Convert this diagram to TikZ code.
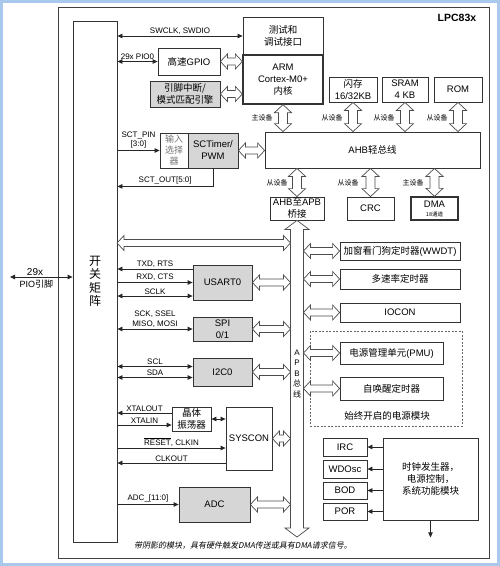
\documentclass[tikz,border=0pt]{standalone}
\usepackage{fontspec}
\setmainfont{Liberation Sans}
\newfontfamily\cjk{Noto Sans CJK SC}
\newfontfamily\cjkit[FakeSlant=0.2]{Noto Sans CJK SC}
\usepackage{xcolor}
\usepackage{tikz}
\usetikzlibrary{arrows.meta,calc}

\definecolor{frameblue}{RGB}{170,200,235}
\definecolor{shade}{RGB}{214,214,214}

\tikzset{
  box/.style={draw=black!80,line width=.8pt,fill=white,align=center,inner sep=1pt,font=\fontsize{9.5}{12}\selectfont},
  shbox/.style={box,fill=shade},
  lbl/.style={font=\fontsize{8}{9.5}\selectfont,inner sep=1.5pt,align=center},
  tag/.style={font=\cjk\fontsize{7}{8}\selectfont,inner sep=1pt},
  sig/.style={line width=.8pt,draw=black!85},
  fat/.style={draw=black!70,line width=.7pt,fill=white,line join=miter},
}

% fat double arrows: left->right and top->bottom
\newcommand{\hfat}[2]{\draw[fat] let \p1=(#1),\p2=(#2) in
  (\x1,\y1) -- (\x1+7pt,\y1+7.5pt) -- (\x1+7pt,\y1+3.5pt) -- (\x2-7pt,\y1+3.5pt)
  -- (\x2-7pt,\y1+7.5pt) -- (\x2,\y1) -- (\x2-7pt,\y1-7.5pt) -- (\x2-7pt,\y1-3.5pt)
  -- (\x1+7pt,\y1-3.5pt) -- (\x1+7pt,\y1-7.5pt) -- cycle;}
\newcommand{\vfat}[2]{\draw[fat] let \p1=(#1),\p2=(#2) in
  (\x1,\y1) -- (\x1+8.5pt,\y1-8pt) -- (\x1+4.5pt,\y1-8pt) -- (\x1+4.5pt,\y2+8pt)
  -- (\x1+8.5pt,\y2+8pt) -- (\x1,\y2) -- (\x1-8.5pt,\y2+8pt) -- (\x1-4.5pt,\y2+8pt)
  -- (\x1-4.5pt,\y1-8pt) -- (\x1-8.5pt,\y1-8pt) -- cycle;}

\begin{document}
\begin{tikzpicture}[x=1pt,y=-1pt,>={Triangle[length=5pt,width=4.5pt]}]
\useasboundingbox (0,0) rectangle (500,566);
\draw[frameblue,line width=3pt] (1.5,1.5) rectangle (498.5,564.5);
\draw[line width=1pt,draw=black!75] (58.5,7) rectangle (489,558);
\node[font=\bfseries\fontsize{10.5}{12}\selectfont] (chip) at (457,18) {LPC83x};

% switch matrix and pins
\node[box,minimum width=44,minimum height=521,font=\cjk\fontsize{12}{13.5}\selectfont] (sw) at (95,281.5) {开\\关\\矩\\阵};
\coordinate (pio) at (10,277);
\draw[sig,<->] (pio) -- (pio -| sw.west)
  node[lbl,pos=.4,above,font=\fontsize{10}{11}\selectfont]{29x}
  node[lbl,pos=.42,below,yshift=-1pt,font=\fontsize{9}{10}\selectfont]{PIO{\cjk 引脚}};

% core side
\node[box,minimum width=80,minimum height=38] (dbg) at (283,36) {{\cjk 测试和}\\{\cjk 调试接口}};
\node[box,line width=1.3pt,minimum width=80,minimum height=49] (arm) at (283,79.5) {ARM\\Cortex-M0+\\{\cjk 内核}};
\node[box,minimum width=48,minimum height=25] (flash) at (353,89.5) {{\cjk 闪存}\\16/32KB};
\node[box,minimum width=46,minimum height=25] (sram) at (405,89.5) {SRAM\\4 KB};
\node[box,minimum width=48,minimum height=25] (rom) at (458,89.5) {ROM};
\node[box,minimum width=62,minimum height=27] (gpio) at (189,61.5) {{\cjk 高速}GPIO};
\node[shbox,minimum width=70,minimum height=26] (pint) at (185,94) {{\cjk 引脚中断/}\\{\cjk 模式匹配引擎}};
\node[box,text=black!55,minimum width=28,minimum height=35,font=\cjk\fontsize{9}{11}\selectfont] (insel) at (174,150.5) {输入\\选择\\器};
\node[shbox,minimum width=50,minimum height=35] (sct) at (213,150.5) {SCTimer/\\PWM};
\node[box,minimum width=215,minimum height=36] (ahb) at (372.5,150) {AHB{\cjk 轻总线}};
\node[box,minimum width=54,minimum height=23] (bridge) at (297,208.5) {AHB{\cjk 至}APB\\{\cjk 桥接}};
\node[box,minimum width=47,minimum height=23] (crc) at (370.5,208.5) {CRC};
\node[box,line width=1.3pt,minimum width=47,minimum height=23] (dma) at (434.5,208.5) {DMA\\[-3pt]{\cjk\fontsize{5.5}{6}\selectfont 18通道}};

% APB peripherals
\node[box,minimum width=120,minimum height=18] (wwdt) at (400,251) {{\cjk 加窗看门狗定时器}(WWDT)};
\node[box,minimum width=120,minimum height=20] (mrt) at (400,279) {{\cjk 多速率定时器}};
\node[box,minimum width=120,minimum height=19] (iocon) at (400,312.5) {IOCON};
\node[draw=black!60,dashed,dash pattern=on 2pt off 1.5pt,line width=.7pt,minimum width=152,minimum height=95] (aon) at (386,378.5) {};
\node[font=\cjk\fontsize{9.5}{11}\selectfont] (aontxt) at (387,416) {始终开启的电源模块};
\node[box,minimum width=103,minimum height=22] (pmu) at (391.5,353) {{\cjk 电源管理单元}(PMU)};
\node[box,minimum width=103,minimum height=23] (wkt) at (391.5,388.5) {{\cjk 自唤醒定时器}};
\node[shbox,minimum width=59,minimum height=35] (usart) at (222.5,282.5) {USART0};
\node[shbox,minimum width=59,minimum height=24] (spi) at (222.5,329) {SPI\\0/1};
\node[shbox,minimum width=59,minimum height=28] (i2c) at (222.5,372) {I2C0};
\node[box,minimum width=39,minimum height=24] (xtal) at (191.5,419) {{\cjk 晶体}\\{\cjk 振荡器}};
\node[box,minimum width=46,minimum height=63] (syscon) at (249,438.5) {SYSCON};
\node[shbox,minimum width=71,minimum height=35] (adc) at (214.5,504.5) {ADC};

% clock and power
\node[box,minimum width=44,minimum height=18] (irc) at (345,447) {IRC};
\node[box,minimum width=44,minimum height=18] (wdo) at (345,469) {WDOsc};
\node[box,minimum width=44,minimum height=17] (bod) at (345,490.5) {BOD};
\node[box,minimum width=44,minimum height=17] (por) at (345,511.5) {POR};
\node[box,minimum width=95,minimum height=82] (cgen) at (430.5,479) {{\cjk 时钟发生器，}\\{\cjk 电源控制，}\\{\cjk 系统功能模块}};

% AHB links
\vfat{arm.south}{arm.south |- ahb.north}
\vfat{flash.south}{flash.south |- ahb.north}
\vfat{sram.south}{sram.south |- ahb.north}
\vfat{rom.south}{rom.south |- ahb.north}
\vfat{ahb.south -| bridge.north}{bridge.north}
\vfat{ahb.south -| crc.north}{crc.north}
\vfat{ahb.south -| dma.north}{dma.north}
\node[tag] (m1) at (262,118) {主设备};
\node[tag] (s1) at (332,118) {从设备};
\node[tag] (s2) at (384,118) {从设备};
\node[tag] (s3) at (437,118) {从设备};
\node[tag] (s4) at (277,183) {从设备};
\node[tag] (s5) at (348,183) {从设备};
\node[tag] (m2) at (413,183) {主设备};
\hfat{gpio.east}{gpio.east -| arm.west}
\hfat{pint.east}{pint.east -| arm.west}
\hfat{sct.east}{sct.east -| ahb.west}

% APB bus
\coordinate (apbend) at (297,537);
\coordinate (apbl) at ([xshift=-6.5pt]bridge.south);
\coordinate (apbr) at ([xshift=6.5pt]bridge.south);
\draw[fat] let \p1=(bridge.south),\p2=(apbend) in
  (\x1,\y1) -- (\x1+12pt,\y1-9pt) -- (\x1+6.5pt,\y1-9pt) -- (\x1+6.5pt,\y2+9pt)
  -- (\x1+12pt,\y2+9pt) -- (\x1,\y2) -- (\x1-12pt,\y2+9pt) -- (\x1-6.5pt,\y2+9pt)
  -- (\x1-6.5pt,\y1-9pt) -- (\x1-12pt,\y1-9pt) -- cycle;
\node[font=\fontsize{8}{10.5}\selectfont,align=center,inner sep=0] (apbtxt) at (297,374) {A\\P\\B\\{\cjk 总}\\{\cjk 线}};
\coordinate (big) at (117,243);
\hfat{big}{big -| apbl}
\hfat{usart.east}{usart.east -| apbl}
\hfat{spi.east}{spi.east -| apbl}
\hfat{i2c.east}{i2c.east -| apbl}
\hfat{syscon.east}{syscon.east -| apbl}
\hfat{adc.east}{adc.east -| apbl}
\hfat{wwdt.west -| apbr}{wwdt.west}
\hfat{mrt.west -| apbr}{mrt.west}
\hfat{iocon.west -| apbr}{iocon.west}
\hfat{pmu.west -| apbr}{pmu.west}
\hfat{wkt.west -| apbr}{wkt.west}

% signals to the switch matrix
\draw[sig,<->] (dbg.west -| sw.east) -- (dbg.west) node[lbl,midway,above]{SWCLK, SWDIO};
\draw[sig,<->] (gpio.west -| sw.east) -- (gpio.west) node[lbl,midway,above]{29x PIO0};
\draw[sig,->] (insel.west -| sw.east) -- (insel.west) node[lbl,midway,above]{SCT\_PIN\\{[3:0]}};
\coordinate (so) at ([yshift=-18pt]sct.south);
\draw[sig,->] (sct.south) -- (so) -- (so -| sw.east) node[lbl,midway,above]{SCT\_OUT[5:0]};
\coordinate (txd) at ([yshift=13.5pt]usart.west);
\coordinate (rxd) at (usart.west);
\coordinate (sclk) at ([yshift=-13.5pt]usart.west);
\draw[sig,->] (txd) -- (txd -| sw.east) node[lbl,midway,above]{TXD, RTS};
\draw[sig,->] (rxd -| sw.east) -- (rxd) node[lbl,midway,above]{RXD, CTS};
\draw[sig,<->] (sclk -| sw.east) -- (sclk) node[lbl,midway,above]{SCLK};
\draw[sig,<->] (spi.west -| sw.east) -- (spi.west) node[lbl,midway,above]{SCK, SSEL\\MISO, MOSI};
\coordinate (scl) at ([yshift=5.5pt]i2c.west);
\coordinate (sda) at ([yshift=-5.5pt]i2c.west);
\draw[sig,<->] (scl -| sw.east) -- (scl) node[lbl,midway,above]{SCL};
\draw[sig,<->] (sda -| sw.east) -- (sda) node[lbl,midway,above]{SDA};
\coordinate (xo) at ([yshift=6pt]xtal.west);
\coordinate (xi) at ([yshift=-6pt]xtal.west);
\draw[sig,->] (xo) -- (xo -| sw.east) node[lbl,midway,above]{XTALOUT};
\draw[sig,->] (xi -| sw.east) -- (xi) node[lbl,midway,above]{XTALIN};
\draw[sig,<->] (xtal.east) -- (xtal.east -| syscon.west);
\coordinate (rst) at ([yshift=-9.5pt]syscon.west);
\coordinate (clko) at ([yshift=-24.5pt]syscon.west);
\draw[sig,->] (rst -| sw.east) -- (rst) node[lbl,midway,above]{$\overline{\mbox{RESET}}$, CLKIN};
\draw[sig,->] (clko) -- (clko -| sw.east) node[lbl,midway,above]{CLKOUT};
\draw[sig,->] (adc.west -| sw.east) -- (adc.west) node[lbl,midway,above]{ADC\_[11:0]};

% clock generator outputs
\draw[sig,->] (irc.east -| cgen.west) -- (irc.east);
\draw[sig,->] (wdo.east -| cgen.west) -- (wdo.east);
\draw[sig,->] (bod.east -| cgen.west) -- (bod.east);
\draw[sig,->] (por.east -| cgen.west) -- (por.east);
\coordinate (cgout) at ([yshift=-17pt]cgen.south);
\draw[sig,->] (cgen.south) -- (cgout);

\node[font=\cjkit\fontsize{8}{9}\selectfont] (note) at (243,546) {带阴影的模块，具有硬件触发DMA传送或具有DMA请求信号。};
\end{tikzpicture}
\end{document}
